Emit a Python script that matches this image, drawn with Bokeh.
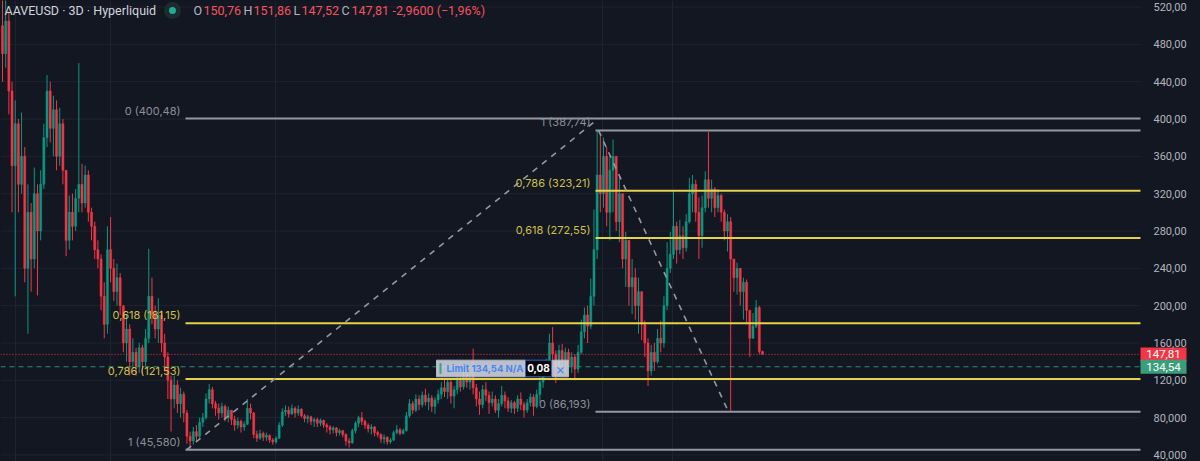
from bokeh.plotting import figure
from bokeh.models import Range1d, FixedTicker, LinearAxis, ColumnDataSource, GlobalInlineStyleSheet
from bokeh.core.properties import value
from bokeh.embed import file_html
from bokeh.resources import INLINE

# ---------------- data (3D candles, AAVEUSD) ----------------
first_open = 500
close = [470, 505, 430, 350, 395, 330, 360, 240, 300, 250, 320, 280, 330, 380, 430, 390, 410, 360, 395, 345,
         270, 300, 285, 315, 330, 310, 340, 300, 285, 260, 250, 210, 180, 260, 240, 215, 230, 200, 160, 175,
         140, 150, 135, 155, 140, 165, 210, 190, 175, 190, 160, 145, 120, 100, 115, 95, 105, 85, 60, 55,
         65, 60, 75, 80, 100, 110, 95, 90, 85, 92, 80, 88, 78, 72, 76, 70, 73, 90, 85, 62,
         58, 63, 59, 61, 56, 54, 58, 72, 86, 88, 84, 90, 85, 89, 82, 79, 81, 76, 78, 74,
         77, 72, 70, 67, 69, 64, 66, 62, 55, 53, 66, 74, 80, 76, 72, 68, 70, 64, 62, 57,
         59, 54, 56, 64, 67, 63, 66, 82, 95, 88, 100, 94, 104, 97, 101, 92, 99, 105, 112, 108,
         118, 103, 110, 120, 113, 125, 118, 124, 112, 100, 94, 110, 104, 96, 100, 88, 95, 104, 98, 90,
         96, 90, 100, 94, 88, 96, 102, 92, 105, 118, 130, 138, 160, 148, 135, 152, 140, 150, 135, 145,
         132, 150, 172, 190, 178, 210, 260, 340, 320, 360, 300, 345, 360, 290, 320, 250, 270, 220, 230, 200,
         215, 180, 160, 130, 150, 140, 165, 160, 200, 240, 255, 285, 260, 275, 262, 290, 320, 330, 300, 275,
         305, 335, 315, 325, 305, 318, 300, 280, 290, 250, 230, 240, 215, 225, 195, 165, 178, 198, 150.76, 147.81]
high = [540, 540, 515, 440, 420, 400, 407, 370, 330, 310, 348, 330, 345, 395, 447, 440, 425, 420, 412, 400,
        345, 318, 320, 325, 460, 352, 350, 345, 305, 290, 270, 255, 225, 285, 295, 250, 245, 235, 200, 190,
        180, 165, 155, 160, 158, 175, 261, 230, 200, 208, 195, 170, 150, 125, 125, 120, 112, 108, 88, 65,
        70, 72, 80, 85, 106, 116, 113, 98, 95, 96, 94, 92, 88, 82, 80, 78, 76, 100, 95, 86,
        66, 67, 65, 64, 62, 58, 60, 75, 90, 93, 92, 94, 92, 93, 90, 84, 83, 82, 80, 80,
        79, 78, 74, 72, 71, 70, 68, 67, 63, 58, 68, 76, 82, 86, 78, 74, 73, 71, 66, 63,
        62, 60, 58, 66, 72, 69, 68, 86, 100, 98, 105, 104, 108, 111, 106, 104, 102, 110, 118, 121,
        122, 120, 114, 126, 125, 132, 128, 130, 154, 116, 108, 115, 118, 108, 108, 104, 100, 114, 108, 102,
        99, 98, 104, 107, 97, 100, 106, 105, 110, 124, 135, 143, 170, 177, 152, 158, 159, 155, 154, 150,
        148, 158, 185, 198, 200, 229, 303, 387.74, 383, 380, 370, 360, 378, 355, 340, 300, 279, 265, 250, 240,
        230, 210, 184, 165, 158, 160, 175, 184, 210, 268, 279, 323, 290, 292, 285, 298, 337, 340, 335, 316,
        318, 344, 386, 335, 327, 325, 320, 303, 298, 295, 250, 246, 237, 230, 228, 195, 192, 206, 200, 151.86]
low = [440, 455, 405, 300, 210, 300, 320, 225, 170, 215, 240, 211, 270, 325, 370, 375, 360, 345, 350, 330,
       253, 260, 270, 280, 300, 300, 305, 290, 270, 250, 240, 195, 165, 170, 225, 205, 200, 190, 150, 140,
       125, 132, 125, 128, 126, 135, 160, 180, 165, 160, 150, 130, 100, 65, 90, 85, 80, 75, 52, 45.58,
       51, 54, 58, 70, 78, 95, 90, 82, 78, 80, 76, 75, 72, 66, 68, 64, 66, 72, 78, 58,
       54, 56, 55, 55, 53, 51, 52, 57, 70, 82, 80, 83, 80, 82, 80, 75, 74, 72, 70, 70,
       71, 69, 64, 62, 63, 60, 61, 59, 50, 48, 52, 63, 70, 72, 68, 64, 62, 60, 59, 53,
       52, 51, 52, 55, 62, 61, 62, 65, 80, 84, 86, 88, 91, 93, 88, 86, 84, 95, 100, 102,
       100, 95, 90, 105, 108, 110, 112, 110, 105, 92, 83, 90, 98, 84, 92, 85, 80, 92, 90, 86,
       85, 84, 86, 88, 80, 85, 92, 82, 90, 96, 112, 125, 130, 138, 117, 125, 130, 128, 130, 128,
       120, 128, 148, 165, 160, 175, 200, 250, 300, 305, 285, 270, 300, 280, 268, 240, 220, 200, 191, 185,
       170, 163, 145, 114, 125, 130, 138, 150, 155, 195, 235, 250, 245, 255, 250, 258, 288, 300, 290, 250,
       262, 300, 305, 300, 295, 300, 290, 270, 258, 86.193, 215, 212, 200, 185, 180, 145, 165, 176, 148, 147.52]

y_ticks = [40, 80, 120, 160, 200, 240, 280, 320, 360, 400, 440, 480, 520]
y_tick_labels = ["40,000", "80,000", "120,00", "160,00", "200,00", "240,00", "280,00",
                 "320,00", "360,00", "400,00", "440,00", "480,00", "520,00"]

fib_a_levels = [400.48, 181.15, 121.53, 45.58]
fib_a_labels = ["0 (400,48)", "0,618 (181,15)", "0,786 (121,53)", "1 (45,580)"]
fib_b_levels = [387.74, 323.21, 272.55, 86.193]
fib_b_labels = ["1 (387,74)", "0,786 (323,21)", "0,618 (272,55)", "0 (86,193)"]
last_price = 147.81
limit_price = 134.54
last_label = "147,81"
limit_label = "134,54"

# ---------------- geometry helpers (reference pixel -> data) ----------------
W, H = 1200, 461
N = len(close)
DX = 760.0 / (N - 1)
Y_TOP, Y_BOT = 527.0, 33.0


def X(px):
    return (px - 2.0) / DX


def Y(py):
    # price at a reference pixel row (used for marks tied to price)
    return 520.0 - (py - 1.7) * 1.0474


def YS(py):
    # data y at a screen row (used for fixed screen furniture such as the header)
    return Y_TOP - py * (Y_TOP - Y_BOT) / H


BG = "#131722"
UP = "#089981"
DOWN = "#f23645"
GRAY = "#9598a1"
YEL = "#e3d24a"
YEL_T = "#cfc048"
GRID = "#1f2330"
FONT = "Inter"
HFONT = "Roboto"

opens = [first_open] + close[:-1]
highs = [max(h, o, c) for h, o, c in zip(high, opens, close)]
lows = [min(l, o, c) for l, o, c in zip(low, opens, close)]
idx = list(range(N))
colors = [UP if c >= o else DOWN for o, c in zip(opens, close)]
src = ColumnDataSource(dict(x=idx, o=opens, c=close, h=highs, l=lows, col=colors))

p = figure(width=W, height=H, output_backend="svg", toolbar_location=None,
           x_range=Range1d(X(0), X(1200)), y_range=Range1d(Y_BOT, Y_TOP),
           y_axis_location=None, x_axis_location=None,
           background_fill_color=BG, border_fill_color=BG, outline_line_color=None,
           min_border_left=0, min_border_top=0, min_border_bottom=0, min_border_right=0)
p.stylesheets = [GlobalInlineStyleSheet(css="html, body { background: #131722; }")]
p.xgrid.visible = False
p.ygrid.visible = False

X_END = X(1140)

# grid lines (price ticks and a few time lines), ending at the price scale
p.segment(x0=[X(0)] * len(y_ticks), y0=y_ticks, x1=[X_END] * len(y_ticks), y1=y_ticks,
          line_color=GRID, line_width=1)
vx = [X(15), X(110), X(275), X(602), X(672)]
p.segment(x0=vx, y0=[Y_BOT] * len(vx), x1=vx, y1=[Y_TOP] * len(vx), line_color=GRID, line_width=1)

# price axis (drawn at the right edge of the chart pane)
ax = LinearAxis(fixed_location=X_END, ticker=FixedTicker(ticks=y_ticks))
ax.major_label_overrides = {t: s for t, s in zip(y_ticks, y_tick_labels)}
ax.axis_line_color = None
ax.major_tick_line_color = None
ax.minor_tick_line_color = None
ax.major_label_text_color = "#b2b5be"
ax.major_label_text_font = HFONT
ax.major_label_text_font_size = "11px"
ax.major_label_standoff = 7
p.add_layout(ax, "right")

# candles
p.segment(x0="x", y0="l", x1="x", y1="h", color="col", line_width=1, source=src)
p.vbar(x="x", top="o", bottom="c", width=0.64, fill_color="col", line_color="col", line_width=0.5, source=src)

# price lines
p.segment(x0=[X(0)], y0=[last_price], x1=[X_END], y1=[last_price], line_color=DOWN, line_dash="1 2",
          line_width=1)
p.segment(x0=[X(0)], y0=[limit_price], x1=[X_END], y1=[limit_price], line_color="#2e8a78",
          line_dash="5 4", line_width=1.2)

# fib A (45.58 -> 400.48)
for lv, lab in zip(fib_a_levels, fib_a_labels):
    c = GRAY if lab.startswith(("0 ", "1 ")) else YEL
    tc = "#8c8f99" if c == GRAY else YEL_T
    p.segment(x0=[X(185)], y0=[lv], x1=[X_END], y1=[lv], line_color=c, line_width=2)
    p.text(x=[X(180)], y=[lv], text=[lab], text_align="right", text_baseline="middle", y_offset=-8,
           text_color=tc, text_font=value(FONT), text_font_size="11px")
p.line(x=[X(186), X(598)], y=[45.58, 400.48], line_color=GRAY, line_width=1.6, line_dash="6 6")

# fib B (387.74 -> 86.193)
for lv, lab in zip(fib_b_levels, fib_b_labels):
    c = GRAY if lab.startswith(("0 ", "1 ")) else YEL
    tc = "#8c8f99" if c == GRAY else YEL_T
    p.segment(x0=[X(595)], y0=[lv], x1=[X_END], y1=[lv], line_color=c, line_width=2)
    p.text(x=[X(590)], y=[lv], text=[lab], text_align="right", text_baseline="middle", y_offset=-8,
           text_color=tc, text_font=value(FONT), text_font_size="11px")
p.line(x=[X(598), X(728)], y=[387.74, 86.193], line_color=GRAY, line_width=1.6, line_dash="6 6")

# limit order widget
p.quad(left=[X(436)], right=[X(525)], top=[Y(363)], bottom=[Y(380)], fill_color="#d8dde6", fill_alpha=0.85,
       line_color="#aeb8c8", line_width=1)
p.quad(left=[X(525)], right=[X(551)], top=[Y(363)], bottom=[Y(380)], fill_color="#05070b",
       line_color="#3d63b8", line_width=1)
p.quad(left=[X(552)], right=[X(568)], top=[Y(363)], bottom=[Y(380)], fill_color="#d8dde6", fill_alpha=0.85,
       line_color="#aeb8c8", line_width=1)
p.segment(x0=[X(440)], y0=[Y(366)], x1=[X(440)], y1=[Y(377)], line_color="#3aa37f", line_width=2)
p.text(x=[X(446)], y=[Y(371.5)], text=["Limit 134,54 N/A"], text_align="left", text_baseline="middle",
       text_color="#4a86f0", text_font=value(FONT), text_font_size="9.5px", text_font_style="bold")
p.text(x=[X(538)], y=[Y(371.5)], text=["0,08"], text_align="center", text_baseline="middle",
       text_color="#ffffff", text_font=value(FONT), text_font_size="10px", text_font_style="bold")
p.text(x=[X(560)], y=[Y(371.5)], text=["\u00d7"], text_align="center", text_baseline="middle",
       text_color="#4a86f0", text_font=value(FONT), text_font_size="14px")

# price tags on the price scale
TAG_H = 7.4
p.quad(left=[X(1140)], right=[X(1186)], top=[last_price + TAG_H], bottom=[last_price - TAG_H],
       fill_color=DOWN, line_color=None)
p.quad(left=[X(1140)], right=[X(1186)], top=[limit_price + TAG_H], bottom=[limit_price - TAG_H],
       fill_color="#3a9e7c", line_color=None)
p.text(x=[X(1163), X(1163)], y=[last_price, limit_price], text=[last_label, limit_label],
       text_align="center", text_baseline="middle", text_color="#ffffff",
       text_font=value(HFONT), text_font_size="11.5px")

# header
HY = YS(10)
p.text(x=[X(4)], y=[HY], text=["AAVEUSD \u00b7 3D \u00b7 Hyperliquid"], text_align="left",
       text_baseline="middle", text_color="#d1d4dc", text_font=value(HFONT), text_font_size="12.5px")
p.scatter(x=[X(172)], y=[HY], size=17, fill_color="#1c2b2d", line_color=None)
p.scatter(x=[X(172)], y=[HY], size=7, fill_color="#22ab94", line_color=None)
hx = [193, 203, 243, 253, 293, 301, 341, 351, 392]
ht = ["O", "150,76", "H", "151,86", "L", "147,52", "C", "147,81", "-2,9600 (\u22121,96%)"]
hc = ["#b2b5be", "#f7525f"] * 4 + ["#f7525f"]
p.text(x=[X(v) for v in hx], y=[HY] * len(hx), text=ht, text_align="left", text_baseline="middle",
       text_color=hc, text_font=value(HFONT), text_font_size="12.5px")

open("out.html", "w").write(file_html(p, INLINE))
